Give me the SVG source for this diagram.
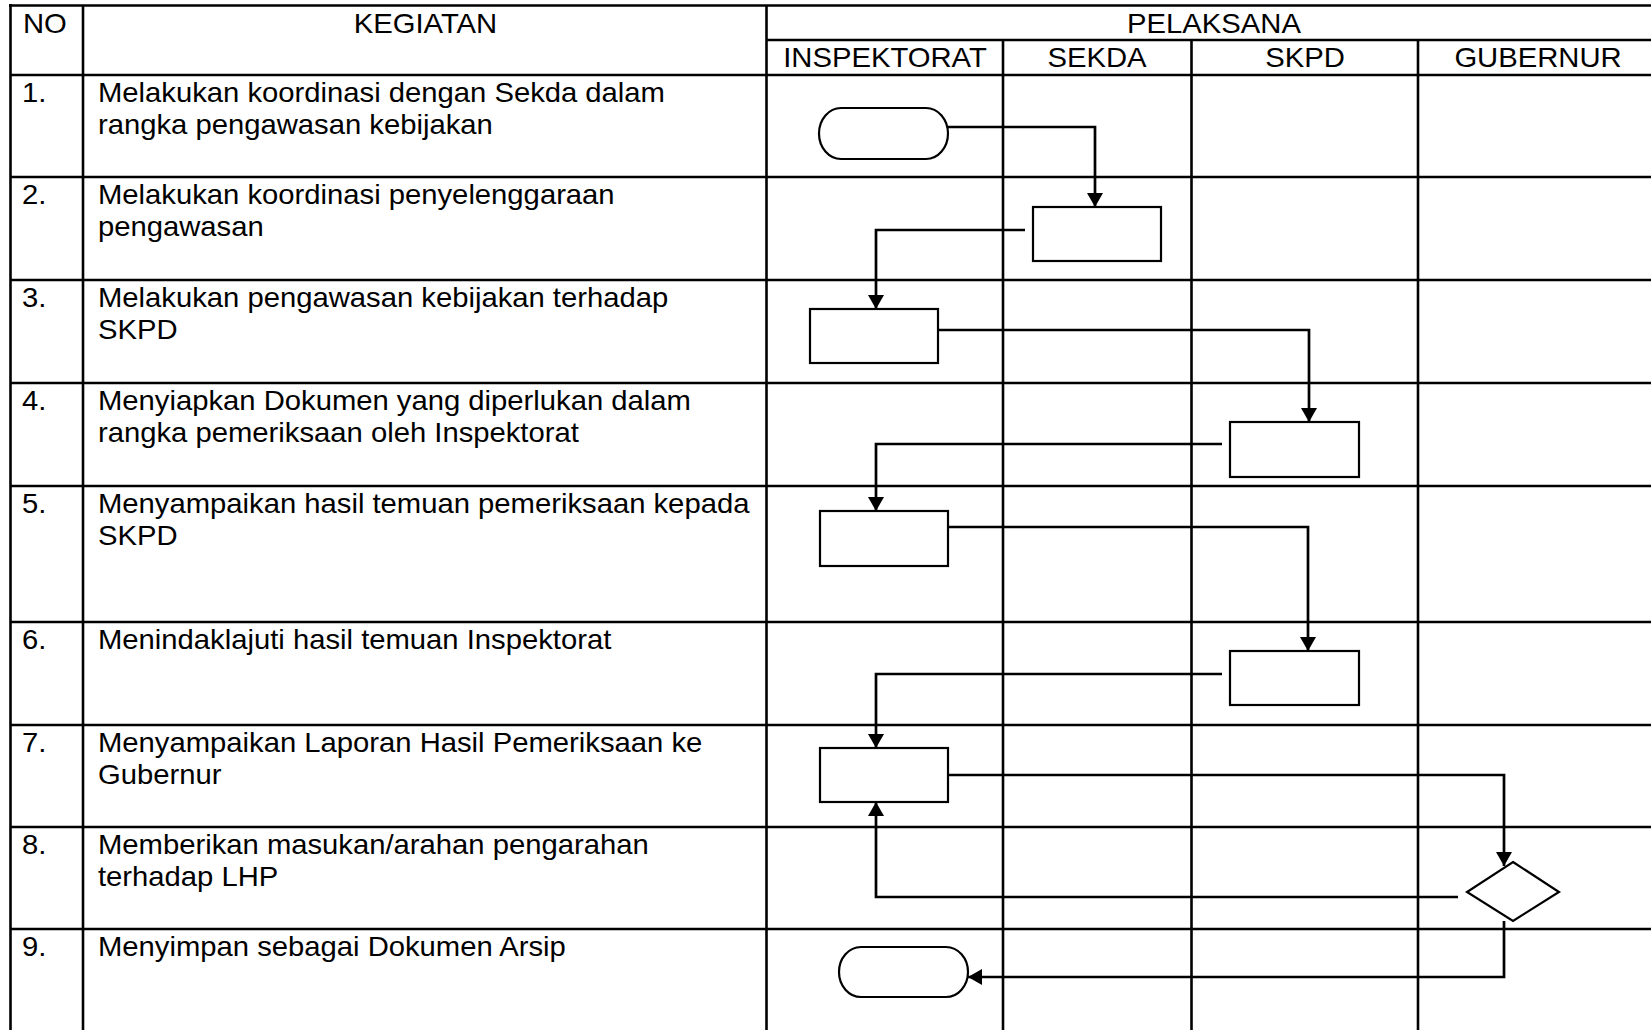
<svg xmlns="http://www.w3.org/2000/svg" width="1651" height="1030" viewBox="0 0 1651 1030">
<style>
.grid line{stroke:#000;stroke-width:2.6}
.t{font-family:"Liberation Sans",Arial,sans-serif;font-size:27px;fill:#000}
.c{text-anchor:middle}
.node{fill:#fff;stroke:#000;stroke-width:2.2}
.conn path{fill:none;stroke:#000;stroke-width:2.7}
</style>
<defs>
<marker id="ah" markerUnits="userSpaceOnUse" viewBox="0 0 14 16" refX="14" refY="8" markerWidth="14" markerHeight="16" orient="auto">
<path d="M0,0 L14,8 L0,16 z" fill="#000"/>
</marker>
</defs>
<rect width="1651" height="1030" fill="#fff"/>
<g class="grid">
<line x1="9" y1="5.5" x2="1651" y2="5.5"/>
<line x1="766.5" y1="40" x2="1651" y2="40"/>
<line x1="10.5" y1="75" x2="1651" y2="75"/>
<line x1="10.5" y1="177" x2="1651" y2="177"/>
<line x1="10.5" y1="280" x2="1651" y2="280"/>
<line x1="10.5" y1="383" x2="1651" y2="383"/>
<line x1="10.5" y1="486" x2="1651" y2="486"/>
<line x1="10.5" y1="622" x2="1651" y2="622"/>
<line x1="10.5" y1="725" x2="1651" y2="725"/>
<line x1="10.5" y1="827" x2="1651" y2="827"/>
<line x1="10.5" y1="929" x2="1651" y2="929"/>
<line x1="10.5" y1="4" x2="10.5" y2="1030"/>
<line x1="83" y1="5.5" x2="83" y2="1030"/>
<line x1="766.5" y1="5.5" x2="766.5" y2="1030"/>
<line x1="1003" y1="40" x2="1003" y2="1030"/>
<line x1="1191.5" y1="40" x2="1191.5" y2="1030"/>
<line x1="1418" y1="40" x2="1418" y2="1030"/>
</g>
<g id="header">
<g transform="translate(23,33) scale(1.083,1)"><text class="t">NO</text></g>
<g transform="translate(425.5,33) scale(1.083,1)"><text class="t c">KEGIATAN</text></g>
<g transform="translate(1214,33) scale(1.083,1)"><text class="t c">PELAKSANA</text></g>
<g transform="translate(885,66.5) scale(1.083,1)"><text class="t c">INSPEKTORAT</text></g>
<g transform="translate(1097,66.5) scale(1.083,1)"><text class="t c">SEKDA</text></g>
<g transform="translate(1305,66.5) scale(1.083,1)"><text class="t c">SKPD</text></g>
<g transform="translate(1538,66.5) scale(1.083,1)"><text class="t c">GUBERNUR</text></g>
</g>
<g id="rows">
<g transform="translate(22,102) scale(1.083,1)"><text class="t">1.</text></g>
<g transform="translate(98,102) scale(1.083,1)"><text class="t">Melakukan koordinasi dengan Sekda dalam<tspan x="0" dy="32.3">rangka pengawasan kebijakan</tspan></text></g>
<g transform="translate(22,204) scale(1.083,1)"><text class="t">2.</text></g>
<g transform="translate(98,204) scale(1.083,1)"><text class="t">Melakukan koordinasi penyelenggaraan<tspan x="0" dy="32.3">pengawasan</tspan></text></g>
<g transform="translate(22,307) scale(1.083,1)"><text class="t">3.</text></g>
<g transform="translate(98,307) scale(1.083,1)"><text class="t">Melakukan pengawasan kebijakan terhadap<tspan x="0" dy="32.3">SKPD</tspan></text></g>
<g transform="translate(22,410) scale(1.083,1)"><text class="t">4.</text></g>
<g transform="translate(98,410) scale(1.083,1)"><text class="t">Menyiapkan Dokumen yang diperlukan dalam<tspan x="0" dy="32.3">rangka pemeriksaan oleh Inspektorat</tspan></text></g>
<g transform="translate(22,513) scale(1.083,1)"><text class="t">5.</text></g>
<g transform="translate(98,513) scale(1.083,1)"><text class="t">Menyampaikan hasil temuan pemeriksaan kepada<tspan x="0" dy="32.3">SKPD</tspan></text></g>
<g transform="translate(22,649) scale(1.083,1)"><text class="t">6.</text></g>
<g transform="translate(98,649) scale(1.083,1)"><text class="t">Menindaklajuti hasil temuan Inspektorat</text></g>
<g transform="translate(22,752) scale(1.083,1)"><text class="t">7.</text></g>
<g transform="translate(98,752) scale(1.083,1)"><text class="t">Menyampaikan Laporan Hasil Pemeriksaan ke<tspan x="0" dy="32.3">Gubernur</tspan></text></g>
<g transform="translate(22,854) scale(1.083,1)"><text class="t">8.</text></g>
<g transform="translate(98,854) scale(1.083,1)"><text class="t">Memberikan masukan/arahan pengarahan<tspan x="0" dy="32.3">terhadap LHP</tspan></text></g>
<g transform="translate(22,956) scale(1.083,1)"><text class="t">9.</text></g>
<g transform="translate(98,956) scale(1.083,1)"><text class="t">Menyimpan sebagai Dokumen Arsip</text></g>
</g>
<g id="connectors" class="conn">
<path d="M948,127 H1095 V207" marker-end="url(#ah)"/>
<path d="M1025,230 H876 V309" marker-end="url(#ah)"/>
<path d="M938,330 H1309 V422" marker-end="url(#ah)"/>
<path d="M1222,444 H876 V511" marker-end="url(#ah)"/>
<path d="M948,527 H1308 V651" marker-end="url(#ah)"/>
<path d="M1222,674 H876 V748" marker-end="url(#ah)"/>
<path d="M948,775 H1504 V866" marker-end="url(#ah)"/>
<path d="M1458,897 H876 V802" marker-end="url(#ah)"/>
<path d="M1504,921 V977 H968" marker-end="url(#ah)"/>
</g>
<g id="start"><rect class="node" x="819" y="108" width="129" height="51" rx="22" ry="25.5"/></g>
<g id="step2"><rect class="node" x="1033" y="207" width="128" height="54"/></g>
<g id="step3"><rect class="node" x="810" y="309" width="128" height="54"/></g>
<g id="step4"><rect class="node" x="1230" y="422" width="129" height="55"/></g>
<g id="step5"><rect class="node" x="820" y="511" width="128" height="55"/></g>
<g id="step6"><rect class="node" x="1230" y="651" width="129" height="54"/></g>
<g id="step7"><rect class="node" x="820" y="748" width="128" height="54"/></g>
<g id="decision"><polygon class="node" points="1513,862 1559,892 1513,921 1467,892"/></g>
<g id="end"><rect class="node" x="839" y="947" width="129" height="50" rx="22" ry="25"/></g>
</svg>
